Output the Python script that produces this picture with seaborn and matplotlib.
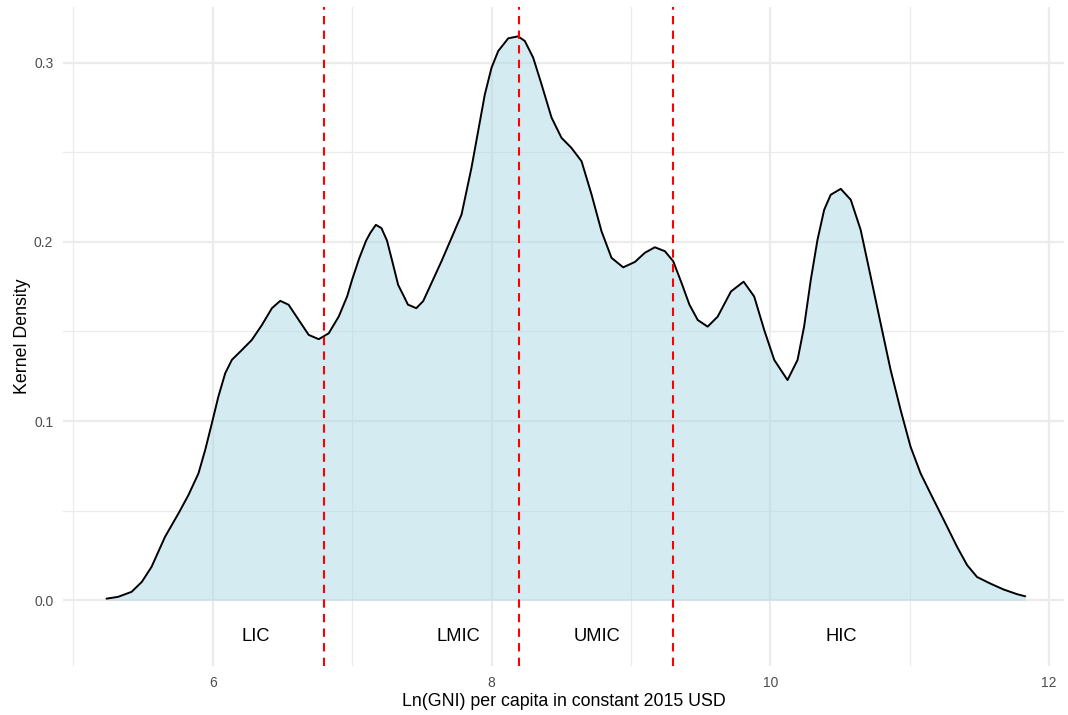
import matplotlib
matplotlib.use("Agg")
import matplotlib.pyplot as plt
import seaborn as sns
import pandas as pd

# Kernel density of log GNI per capita (constant 2015 USD)
gni_log = [5.237, 5.32, 5.417, 5.49, 5.56, 5.657, 5.753, 5.825, 5.897, 5.945,
           5.993, 6.04, 6.089, 6.137, 6.209, 6.28, 6.353, 6.424, 6.484, 6.544,
           6.616, 6.688, 6.76, 6.832, 6.904, 6.964, 7.0, 7.05, 7.10, 7.13, 7.17,
           7.21, 7.25, 7.29, 7.33, 7.37, 7.40, 7.46, 7.51, 7.569, 7.641, 7.713,
           7.785, 7.856, 7.904, 7.952, 8.0, 8.048, 8.12, 8.191, 8.239, 8.299,
           8.359, 8.431, 8.502, 8.574, 8.646, 8.718, 8.789, 8.861, 8.945, 9.029,
           9.1, 9.172, 9.244, 9.304, 9.364, 9.42, 9.48, 9.551, 9.623, 9.718,
           9.809, 9.885, 9.957, 10.029, 10.124, 10.196, 10.243, 10.291, 10.339,
           10.387, 10.434, 10.506, 10.578, 10.649, 10.721, 10.792, 10.864, 10.936,
           11.007, 11.079, 11.15, 11.246, 11.341, 11.413, 11.484, 11.58, 11.675,
           11.771, 11.83]
density = [0.0009, 0.0019, 0.0047, 0.0102, 0.0186, 0.0354, 0.0484, 0.0587, 0.0708,
           0.0838, 0.0987, 0.1137, 0.1267, 0.1342, 0.1397, 0.1453, 0.1537, 0.163,
           0.1671, 0.1649, 0.1565, 0.1481, 0.1457, 0.149, 0.1584, 0.1696, 0.179,
           0.1907, 0.2007, 0.205, 0.2095, 0.2077, 0.2007, 0.1885, 0.176, 0.1698,
           0.165, 0.163, 0.167, 0.177, 0.1892, 0.2022, 0.2153, 0.2413, 0.2618,
           0.2823, 0.2972, 0.3065, 0.3136, 0.3147, 0.3121, 0.3028, 0.2879, 0.2693,
           0.2581, 0.2524, 0.245, 0.2264, 0.206, 0.1911, 0.1858, 0.1888, 0.1939,
           0.197, 0.1948, 0.1892, 0.177, 0.165, 0.1564, 0.1527, 0.1583, 0.1723,
           0.1778, 0.1695, 0.1508, 0.1341, 0.1229, 0.1341, 0.1527, 0.1788, 0.2011,
           0.2179, 0.2263, 0.2296, 0.2235, 0.2067, 0.1806, 0.1546, 0.1285, 0.1061,
           0.0857, 0.0708, 0.0596, 0.0447, 0.0298, 0.0196, 0.013, 0.0093, 0.006,
           0.0034, 0.0022]

# Income-group thresholds and group labels
thresholds = [6.80, 8.20, 9.30]
group_names = ["LIC", "LMIC", "UMIC", "HIC"]
group_pos = [6.31, 7.76, 8.76, 10.51]
label_y = -0.02

x_ticks = [6, 8, 10, 12]
y_ticks = [0.0, 0.1, 0.2, 0.3]

df = pd.DataFrame({"gni": gni_log, "density": density})

sns.set_theme(style="white")
plt.rcParams["font.family"] = ["Liberation Sans", "DejaVu Sans"]

fig = plt.figure(figsize=(10.68, 7.15), dpi=100)
ax = fig.add_axes([0.059, 0.0685, 0.9375, 0.9215])

ax.set_xlim(4.925, 12.11)
ax.set_ylim(-0.0367, 0.331)

# grid: major and minor lines in light grey
grid_col = "#EBEBEB"
for xv in [5, 7, 9, 11]:
    ax.axvline(xv, color=grid_col, lw=0.9, zorder=0)
for yv in [0.05, 0.15, 0.25]:
    ax.axhline(yv, color=grid_col, lw=0.9, zorder=0)
for xv in x_ticks:
    ax.axvline(xv, color=grid_col, lw=1.6, zorder=0)
for yv in y_ticks:
    ax.axhline(yv, color=grid_col, lw=1.6, zorder=0)

ax.fill_between(df["gni"], 0, df["density"], color="lightblue", alpha=0.5,
                linewidth=0, zorder=1)
line = sns.lineplot(data=df, x="gni", y="density", color="black", linewidth=1.4,
                    ax=ax, zorder=3, sort=False)
for ln in ax.get_lines():
    ln.set_solid_joinstyle("round")

for t in thresholds:
    ax.axvline(t, color="red", linestyle=(0, (4, 3)), linewidth=1.5, zorder=4)

for name, pos in zip(group_names, group_pos):
    ax.text(pos, label_y, name, ha="center", va="center", fontsize=13.2,
            color="black", zorder=5)

ax.set_xticks(x_ticks)
ax.set_xticklabels([str(v) for v in x_ticks])
ax.set_yticks(y_ticks)
ax.set_yticklabels([f"{v:.1f}" for v in y_ticks])
ax.tick_params(axis="both", length=0, labelsize=10, labelcolor="#4D4D4D", pad=7)

ax.set_xlabel("Ln(GNI) per capita in constant 2015 USD", fontsize=12.8,
              color="black", labelpad=2)
ax.set_ylabel("Kernel Density", fontsize=12.8, color="black", labelpad=2)

for s in ax.spines.values():
    s.set_visible(False)

fig.savefig("out.png", dpi=100, facecolor="white")
